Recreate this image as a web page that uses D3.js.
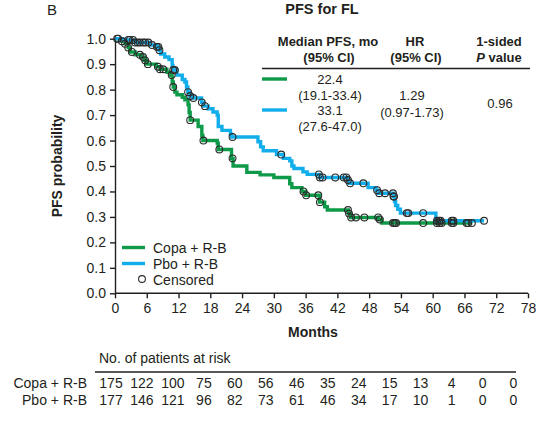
<!DOCTYPE html>
<html><head><meta charset="utf-8">
<script src="https://cdn.jsdelivr.net/npm/d3@7"></script>
<style>
html,body{margin:0;padding:0;background:#fff;}
svg text{font-family:"Liberation Sans",Arial,Helvetica,sans-serif;fill:#231f20;}
</style></head>
<body><svg id="c" width="538" height="434"></svg>
<script>
// ---------- data ----------
const xTicks = [0,6,12,18,24,30,36,42,48,54,60,66,72,78];
const yTicks = [0,0.1,0.2,0.3,0.4,0.5,0.6,0.7,0.8,0.9,1.0];
const seriesNames = ["Copa + R-B","Pbo + R-B"];
const seriesColors = ["#0e9a48","#12aeec"];
// Kaplan-Meier steps: [month, survival after step]
const copaSteps = [[0,1.0],[1.3,0.99],[1.9,0.98],[2.5,0.965],[2.8,0.948],[3.8,0.937],[4.9,0.928],[5.5,0.915],[6.0,0.90],[7.8,0.89],[8.5,0.88],[9.8,0.868],[10.4,0.857],[10.8,0.83],[11.0,0.81],[11.3,0.79],[11.7,0.78],[12.7,0.77],[13.2,0.76],[13.8,0.74],[14.0,0.71],[14.2,0.68],[15.7,0.655],[16.4,0.62],[16.6,0.60],[19.3,0.59],[19.5,0.565],[22.0,0.53],[22.3,0.50],[24.9,0.475],[27.4,0.465],[30.0,0.455],[33.0,0.43],[33.4,0.415],[35.3,0.40],[36.0,0.385],[38.6,0.358],[39.6,0.34],[40.1,0.327],[44.1,0.313],[44.5,0.298],[49.8,0.29],[50.4,0.276]];
const copaEnd = 67.5;
const copaCensor = [0.4,1.3,1.9,2.5,3.2,4.7,5.3,5.7,6.2,8.1,8.5,9.1,10.7,11.0,14.2,16.7,19.7,22.2,35.6,36.1,38.4,38.7,44.0,44.2,44.6,45.5,47.1,49.7,50.0,52.5,52.8,53.1,58.2,60.8,61.3,61.7,63.6,63.9,66.4,66.7,67.4];
const pboSteps = [[0,1.0],[1.5,0.995],[3.8,0.985],[6.6,0.975],[7.9,0.968],[8.3,0.955],[8.6,0.94],[9.4,0.928],[10.2,0.918],[10.8,0.895],[10.95,0.877],[11.7,0.857],[12.7,0.84],[13.2,0.83],[13.5,0.81],[13.75,0.79],[14.1,0.775],[14.7,0.767],[16.35,0.75],[16.7,0.735],[17.6,0.725],[18.5,0.712],[19.3,0.70],[19.5,0.655],[20.2,0.64],[21.8,0.625],[22.0,0.614],[27.0,0.595],[27.5,0.575],[28.0,0.56],[30.5,0.545],[31.8,0.53],[33.0,0.52],[33.4,0.50],[33.8,0.49],[35.5,0.477],[36.3,0.467],[38.6,0.455],[43.9,0.445],[44.2,0.432],[47.8,0.415],[49.3,0.405],[49.7,0.393],[52.6,0.38],[52.8,0.36],[53.0,0.345],[53.4,0.33],[53.9,0.315],[60.6,0.285]];
const pboEnd = 69.7;
const pboCensor = [0.6,2.5,2.8,3.4,3.8,4.3,4.7,5.3,5.7,6.3,7.0,7.9,8.2,8.4,11.0,11.3,13.8,14.2,14.8,16.4,17.0,22.2,31.4,38.5,38.7,39.2,41.6,43.2,43.7,44.0,44.4,46.9,49.5,49.9,51.0,52.5,52.6,52.7,55.1,55.4,58.2,60.8,61.2,61.5,63.6,63.9,69.7];
const riskTimes = [0,6,12,18,24,30,36,42,48,54,60,66,72,78];
const copaRisk = [175,122,100,75,60,56,46,35,24,15,13,4,0,0];
const pboRisk = [177,146,121,96,82,73,61,46,34,17,10,1,0,0];
const tableMedian = ["22.4","(19.1-33.4)","33.1","(27.6-47.0)"];
const tableHR = ["1.29","(0.97-1.73)"];
const tableP = "0.96";

// ---------- drawing ----------
const svg = d3.select("#c");
const x = d3.scaleLinear().domain([0,78]).range([115,528]);
const y = d3.scaleLinear().domain([0,1]).range([293.3,38.7]);
const xr = d3.scaleLinear().domain([0,78]).range([111,513.5]);
const ink = "#231f20";

// axes
const gx = svg.append("g").attr("transform","translate(0,293.3)")
  .call(d3.axisBottom(x).tickValues(xTicks).tickSize(5).tickSizeOuter(0).tickPadding(5));
const gy = svg.append("g").attr("transform","translate(115,0)")
  .call(d3.axisLeft(y).tickValues(yTicks).tickSize(5).tickSizeOuter(0).tickPadding(4).tickFormat(d3.format(".1f")));
[gx,gy].forEach(g=>{
  g.selectAll("path,line").attr("stroke",ink).attr("stroke-width",1.4);
  g.selectAll("text").style("font-size","14px").attr("fill",ink);
});
gx.select(".domain").attr("d","M115,0H528");

function stepPath(steps,end){
  const pts=[];
  steps.forEach((s,i)=>{
    if(i>0) pts.push([s[0],steps[i-1][1]]);
    pts.push(s);
  });
  pts.push([end,steps[steps.length-1][1]]);
  return pts;
}
function survAt(steps,t){
  let v=steps[0][1];
  for(const s of steps){ if(s[0]<=t) v=s[1]; else break; }
  return v;
}
const line = d3.line().x(d=>x(d[0])).y(d=>y(d[1]));
const sets = [[copaSteps,copaEnd,copaCensor],[pboSteps,pboEnd,pboCensor]];
sets.forEach((s,i)=>{
  svg.append("path").attr("d",line(stepPath(s[0],s[1])))
    .attr("fill","none").attr("stroke",seriesColors[i]).attr("stroke-width",3.4)
    .attr("stroke-linejoin","miter");
});
sets.forEach((s,i)=>{
  svg.append("g").selectAll("circle").data(s[2]).join("circle")
    .attr("cx",d=>x(d)).attr("cy",d=>y(survAt(s[0],d))).attr("r",3.4)
    .attr("fill","none").attr("stroke","#2a2a2a").attr("stroke-width",1.1);
});

// titles
svg.append("text").attr("x",47).attr("y",15).style("font-size","15px").text("B");
svg.append("text").attr("x",322).attr("y",14).attr("text-anchor","middle")
  .style("font-size","14.5px").style("font-weight","bold").text("PFS for FL");
svg.append("text").attr("x",313).attr("y",337).attr("text-anchor","middle")
  .style("font-size","14px").style("font-weight","bold").text("Months");
svg.append("text").attr("transform","translate(62,166) rotate(-90)").attr("text-anchor","middle")
  .style("font-size","14px").style("font-weight","bold").text("PFS probability");

// legend
const leg = svg.append("g");
seriesNames.forEach((n,i)=>{
  const yy = 247.5 + i*16;
  leg.append("line").attr("x1",122).attr("x2",145).attr("y1",yy).attr("y2",yy)
    .attr("stroke",seriesColors[i]).attr("stroke-width",3.4);
  leg.append("text").attr("x",153).attr("y",yy+5).style("font-size","14px").text(n);
});
leg.append("circle").attr("cx",142).attr("cy",279).attr("r",3.4).attr("fill","none")
  .attr("stroke","#2a2a2a").attr("stroke-width",1.1);
leg.append("text").attr("x",153).attr("y",284.5).style("font-size","14px").text("Censored");

// stats table
const tb = svg.append("g").style("font-size","13px");
const hdr = (tx,ty,t)=>tb.append("text").attr("x",tx).attr("y",ty).attr("text-anchor","middle").style("font-weight","bold").text(t);
hdr(328,46,"Median PFS, mo"); hdr(329,62,"(95% CI)");
hdr(415,46,"HR"); hdr(416,62,"(95% CI)");
hdr(499,46,"1-sided");
const pv = tb.append("text").attr("x",499).attr("y",62).attr("text-anchor","middle").style("font-weight","bold");
pv.append("tspan").style("font-style","italic").text("P");
pv.append("tspan").text(" value");
tb.append("line").attr("x1",262).attr("x2",530).attr("y1",68.5).attr("y2",68.5).attr("stroke",ink).attr("stroke-width",1.5);
[79,110].forEach((yy,i)=>tb.append("line").attr("x1",262).attr("x2",287).attr("y1",yy).attr("y2",yy)
  .attr("stroke",seriesColors[i]).attr("stroke-width",3.4));
[84,100,115,131].forEach((yy,i)=>tb.append("text").attr("x",330).attr("y",yy).attr("text-anchor","middle").text(tableMedian[i]));
[100,117].forEach((yy,i)=>tb.append("text").attr("x",412).attr("y",yy).attr("text-anchor","middle").text(tableHR[i]));
tb.append("text").attr("x",500).attr("y",108).attr("text-anchor","middle").text(tableP);

// risk table
const rt = svg.append("g").style("font-size","14px");
rt.append("text").attr("x",99).attr("y",363).text("No. of patients at risk");
rt.append("line").attr("x1",95).attr("x2",516).attr("y1",372).attr("y2",372).attr("stroke",ink).attr("stroke-width",1.6);
[copaRisk,pboRisk].forEach((arr,i)=>{
  const yy = 388 + i*17;
  rt.append("text").attr("x",87).attr("y",yy).attr("text-anchor","end").text(seriesNames[i]);
  rt.append("g").selectAll("text").data(arr).join("text")
    .attr("x",(d,j)=>xr(riskTimes[j])).attr("y",yy).attr("text-anchor","middle").text(d=>d);
});
</script></body></html>
